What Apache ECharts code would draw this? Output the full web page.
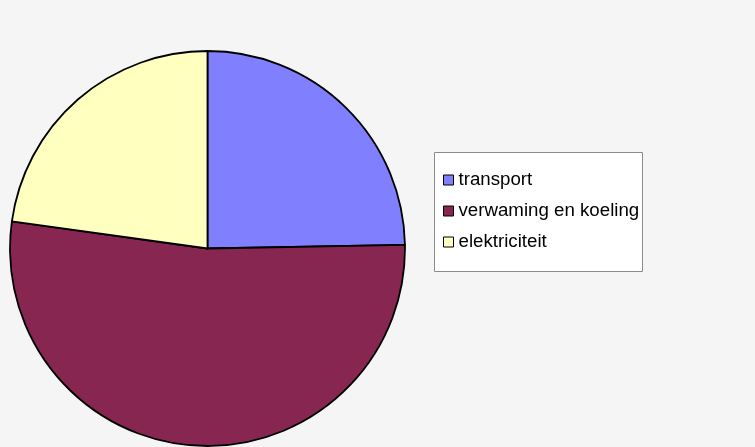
<!DOCTYPE html>
<html>
<head>
<meta charset="utf-8">
<style>
  html, body { margin: 0; padding: 0; background: #f5f5f5; }
  #chart { width: 755px; height: 447px; }
</style>
<script src="https://cdn.jsdelivr.net/npm/echarts@6/dist/echarts.min.js"></script>
</head>
<body>
<div id="chart"></div>
<script>
  // data (share in %)
  var categories = ['transport', 'verwaming en koeling', 'elektriciteit'];
  var values = [24.7, 52.5, 22.8];
  var colors = ['#8080ff', '#862651', '#ffffc0'];

  var chart = echarts.init(document.getElementById('chart'));

  var data = categories.map(function(c, i) {
    return { name: c, value: values[i], itemStyle: { color: colors[i] } };
  });

  chart.setOption({
    backgroundColor: '#f5f5f5',
    animation: false,
    graphic: [{
      type: 'rect',
      shape: { x: 434.5, y: 152.5, width: 208, height: 119 },
      style: { fill: '#ffffff', stroke: '#8c8c8c', lineWidth: 1 },
      z: 0
    }],
    legend: {
      orient: 'vertical',
      left: 443,
      top: 170,
      padding: 0,
      itemWidth: 10,
      itemHeight: 10,
      itemGap: 11,
      icon: 'rect',
      itemStyle: { borderColor: '#000', borderWidth: 1 },
      textStyle: {
        fontFamily: 'Liberation Sans, Arial, sans-serif',
        fontSize: 18.7,
        lineHeight: 20,
        color: '#000'
      },
      z: 5,
      data: categories
    },
    series: [{
      type: 'pie',
      center: [207.5, 248.5],
      radius: 197.5,
      startAngle: 90,
      clockwise: true,
      label: { show: false },
      labelLine: { show: false },
      emphasis: { disabled: true },
      itemStyle: { borderColor: '#000', borderWidth: 1.8 },
      data: data
    }]
  });
</script>
</body>
</html>
